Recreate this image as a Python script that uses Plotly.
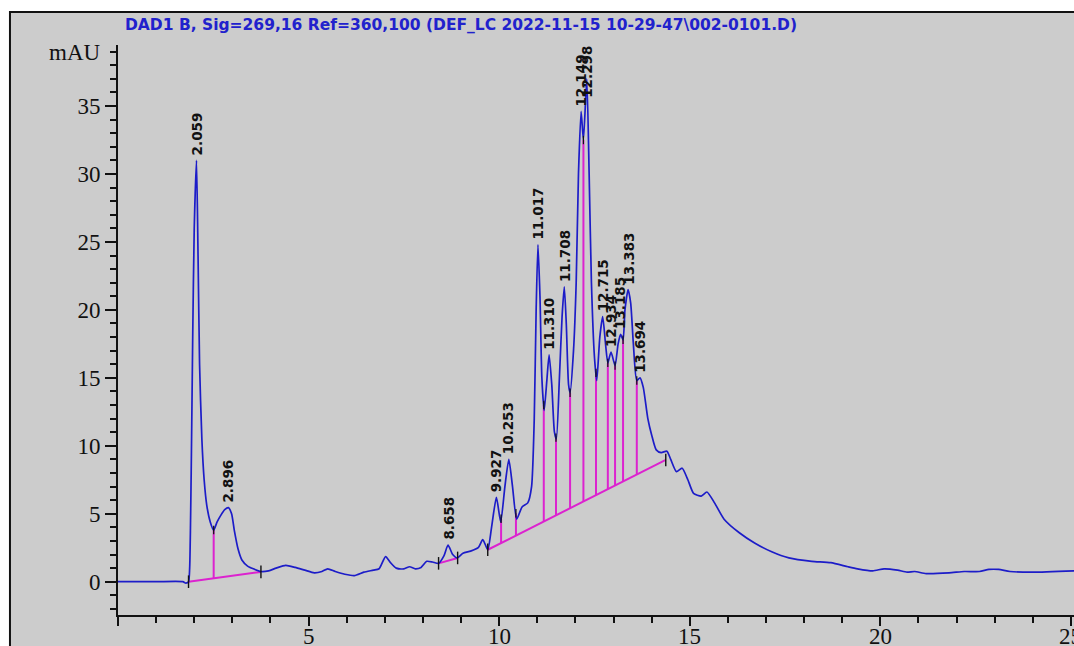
import numpy as np
import plotly.graph_objects as go

# ---------------- data ----------------
times = [0.0, 1.0, 1.7, 1.78, 1.85, 1.88, 1.92, 1.96, 2.0, 2.059, 2.1, 2.14, 2.2, 2.26, 2.33,
         2.42, 2.51, 2.6, 2.7, 2.8, 2.896, 2.98, 3.05, 3.15, 3.25, 3.4, 3.55, 3.75, 3.95,
         4.15, 4.4, 4.65, 4.9, 5.15, 5.35, 5.5, 5.7, 5.95, 6.2, 6.45, 6.7, 6.85, 7.02, 7.15,
         7.3, 7.5, 7.65, 7.8, 7.95, 8.1, 8.25, 8.41, 8.55, 8.658, 8.78, 8.9, 9.05, 9.25,
         9.45, 9.57, 9.7, 9.8, 9.927, 10.04, 10.15, 10.253, 10.35, 10.46, 10.6, 10.75,
         10.85, 10.92, 10.97, 11.017, 11.07, 11.12, 11.18, 11.25, 11.31, 11.38, 11.45,
         11.5, 11.58, 11.65, 11.708, 11.76, 11.82, 11.86, 11.95, 12.02, 12.08, 12.149,
         12.21, 12.298, 12.36, 12.42, 12.5, 12.56, 12.64, 12.715, 12.79, 12.85, 12.934,
         13.04, 13.12, 13.185, 13.25, 13.3, 13.383, 13.45, 13.52, 13.61, 13.694, 13.78,
         13.9, 14.0, 14.12, 14.25, 14.4, 14.5, 14.65, 14.8, 14.95, 15.1, 15.3, 15.45,
         15.65, 15.9, 16.3, 16.7, 17.15, 17.6, 18.2, 18.7, 19.15, 19.4, 19.8, 20.1, 20.45,
         20.7, 20.9, 21.2, 21.8, 22.2, 22.6, 22.85, 23.1, 23.4, 24.0, 25.1]
signal = [0.0, 0.0, 0.0, -0.1, 0.0, 1.0, 8.0, 18.0, 26.0, 31.0, 24.0, 16.0, 10.5, 7.5, 5.6,
          4.4, 3.8, 4.4, 4.9, 5.3, 5.45, 5.0, 3.8, 2.4, 1.6, 1.15, 0.95, 0.75, 0.8,
          1.0, 1.2, 1.05, 0.85, 0.65, 0.75, 0.95, 0.75, 0.55, 0.45, 0.7, 0.85, 0.95, 1.85, 1.4,
          1.0, 0.95, 1.1, 0.95, 1.05, 1.5, 1.45, 1.35, 1.9, 2.7, 2.0, 1.75, 2.1, 2.25,
          2.5, 3.1, 2.35, 4.0, 6.2, 4.4, 7.0, 9.0, 7.0, 4.6, 5.5, 5.8,
          7.0, 12.0, 20.0, 24.8, 21.0, 15.0, 12.6, 14.8, 16.7, 14.5, 11.0,
          10.5, 15.0, 19.5, 21.7, 19.0, 14.5, 13.9, 17.0, 22.0, 30.0, 34.6,
          32.5, 37.0, 30.0, 22.0, 16.5, 14.8, 18.0, 19.5, 17.5, 16.1, 16.9,
          15.9, 17.5, 18.2, 17.8, 20.0, 21.5, 20.5, 17.5, 14.8, 15.0, 14.3,
          12.0, 10.8, 9.7, 9.5, 9.6, 9.0, 8.1, 8.35, 7.5, 6.5, 6.3, 6.6,
          5.8, 4.6, 3.6, 2.85, 2.2, 1.75, 1.5, 1.4, 1.1, 0.95, 0.8, 0.95, 0.85,
          0.7, 0.75, 0.6, 0.65, 0.75, 0.75, 0.9, 0.9, 0.75, 0.7, 0.8]

peak_times = [2.059, 2.896, 8.658, 9.927, 10.253, 11.017, 11.310, 11.708, 12.149, 12.298,
              12.715, 12.934, 13.185, 13.383, 13.694]
peak_labels = ["2.059", "2.896", "8.658", "9.927", "10.253", "11.017", "11.310", "11.708",
               "12.149", "12.298", "12.715", "12.934", "13.185", "13.383", "13.694"]

# integration baselines (start time, start value, end time, end value)
base_t0 = [1.85, 8.41, 9.70]
base_v0 = [0.0, 1.35, 2.35]
base_t1 = [3.75, 8.91, 14.37]
base_v1 = [0.72, 1.75, 8.96]
# peak split (drop) times
drop_times = [2.51, 10.05, 10.44, 11.17, 11.49, 11.86, 12.21, 12.54, 12.85, 13.04, 13.25, 13.61]

x_ticks = [0, 5, 10, 15, 20, 25]
x_ticktext = ["", "5", "10", "15", "20", "25"]
y_ticks = [0, 5, 10, 15, 20, 25, 30, 35]

title_text = "DAD1 B, Sig=269,16 Ref=360,100 (DEF_LC 2022-11-15 10-29-47\\002-0101.D)"

# ---------------- derived geometry ----------------
t_arr = np.array(times)
s_arr = np.array(signal)

bx, by = [], []
for a, va, b, vb in zip(base_t0, base_v0, base_t1, base_v1):
    bx += [a, b, None]
    by += [va, vb, None]

dx, dy, tick_x, tick_y = [], [], [], []
for t in drop_times:
    for a, va, b, vb in zip(base_t0, base_v0, base_t1, base_v1):
        if a <= t <= b:
            vbase = va + (vb - va) * (t - a) / (b - a)
            vtop = float(np.interp(t, t_arr, s_arr))
            dx += [t, t, None]
            dy += [vbase, vtop, None]
            tick_x.append(t)
            tick_y.append(vtop)
            break

end_x = base_t0 + base_t1
end_y = base_v0 + base_v1

MAGENTA = "#dc22cf"
BLUE = "#1c1cc8"
GRAY = "#cccccc"
INK = "#111111"
SERIF = dict(family="Liberation Serif", size=23, color=INK)

fig = go.Figure()
fig.add_trace(go.Scatter(x=dx, y=dy, mode="lines",
                         line=dict(color=MAGENTA, width=2), hoverinfo="skip"))
fig.add_trace(go.Scatter(x=bx, y=by, mode="lines",
                         line=dict(color=MAGENTA, width=2), hoverinfo="skip"))
fig.add_trace(go.Scatter(x=times, y=signal, mode="lines",
                         line=dict(color=BLUE, width=1.7, shape="spline", smoothing=0.6),
                         hoverinfo="skip"))
fig.add_trace(go.Scatter(x=end_x, y=end_y, mode="markers",
                         marker=dict(symbol="line-ns", size=9,
                                     line=dict(color=INK, width=1.4)),
                         hoverinfo="skip"))
fig.add_trace(go.Scatter(x=tick_x, y=tick_y, mode="markers",
                         marker=dict(symbol="line-ns", size=6,
                                     line=dict(color=INK, width=1.2)),
                         hoverinfo="skip"))

annotations = []
for t, lab in zip(peak_times, peak_labels):
    v = float(np.interp(t, t_arr, s_arr))
    common = dict(text=lab, textangle=-90, showarrow=False, borderpad=0,
                  font=dict(family="DejaVu Sans", size=13.5, color=INK, weight="bold"),
                  xanchor="center", xref="x", x=t)
    if v > 35.5:
        annotations.append(dict(**common, yref="paper", y=1.0, yanchor="top"))
    else:
        annotations.append(dict(**common, yref="y", y=v, yanchor="bottom", yshift=4))

# x tick labels (drawn as text so they can sit as close to the axis as in the original)
for xv, xt in zip(x_ticks, x_ticktext):
    if xt:
        annotations.append(dict(text=xt, xref="x", yref="paper", x=xv, y=0,
                                xanchor="center", yanchor="top", yshift=-8,
                                showarrow=False, borderpad=0, font=SERIF))

annotations.append(dict(text="mAU", xref="paper", yref="paper", x=-0.016, y=0.986,
                        xanchor="right", yanchor="middle", showarrow=False, font=SERIF))
annotations.append(dict(text=title_text, xref="paper", yref="paper", x=0.005, y=1.035,
                        xanchor="left", yanchor="middle", showarrow=False,
                        font=dict(family="DejaVu Sans", size=15.5, color="#2121cc",
                                  weight="bold")))

fig.update_layout(
    width=1074, height=646,
    margin=dict(l=118, r=0, t=45, b=31, pad=0, autoexpand=False),
    paper_bgcolor="white",
    plot_bgcolor=GRAY,
    showlegend=False,
    annotations=annotations,
    shapes=[dict(type="rect", xref="paper", yref="paper", x0=-0.113, x1=1.05,
                 y0=-0.2, y1=1.058, layer="below", fillcolor=GRAY,
                 line=dict(color=INK, width=2))],
)
fig.update_xaxes(
    range=[0, 25.08], showgrid=False, zeroline=False, automargin=False,
    showline=True, linecolor=INK, linewidth=2,
    tickmode="array", tickvals=x_ticks, showticklabels=False,
    ticks="outside", ticklen=9, tickwidth=1.5, tickcolor=INK,
    minor=dict(tickmode="linear", tick0=0, dtick=1, ticks="outside", ticklen=6,
               tickwidth=1.5, tickcolor=INK, showgrid=False),
)
fig.update_yaxes(
    range=[-2.45, 39.49], showgrid=False, zeroline=False, automargin=False,
    showline=True, linecolor=INK, linewidth=2,
    tickmode="array", tickvals=y_ticks,
    ticks="outside", ticklen=11, tickwidth=1.5, tickcolor=INK,
    minor=dict(tickmode="linear", tick0=0, dtick=1, ticks="outside", ticklen=6,
               tickwidth=1.5, tickcolor=INK, showgrid=False),
    tickfont=SERIF,
    ticklabelstandoff=0,
)

fig.write_html(
    "out.html",
    config={"displayModeBar": False},
    post_script="document.body.style.margin='0';document.body.style.overflow='hidden';",
)
